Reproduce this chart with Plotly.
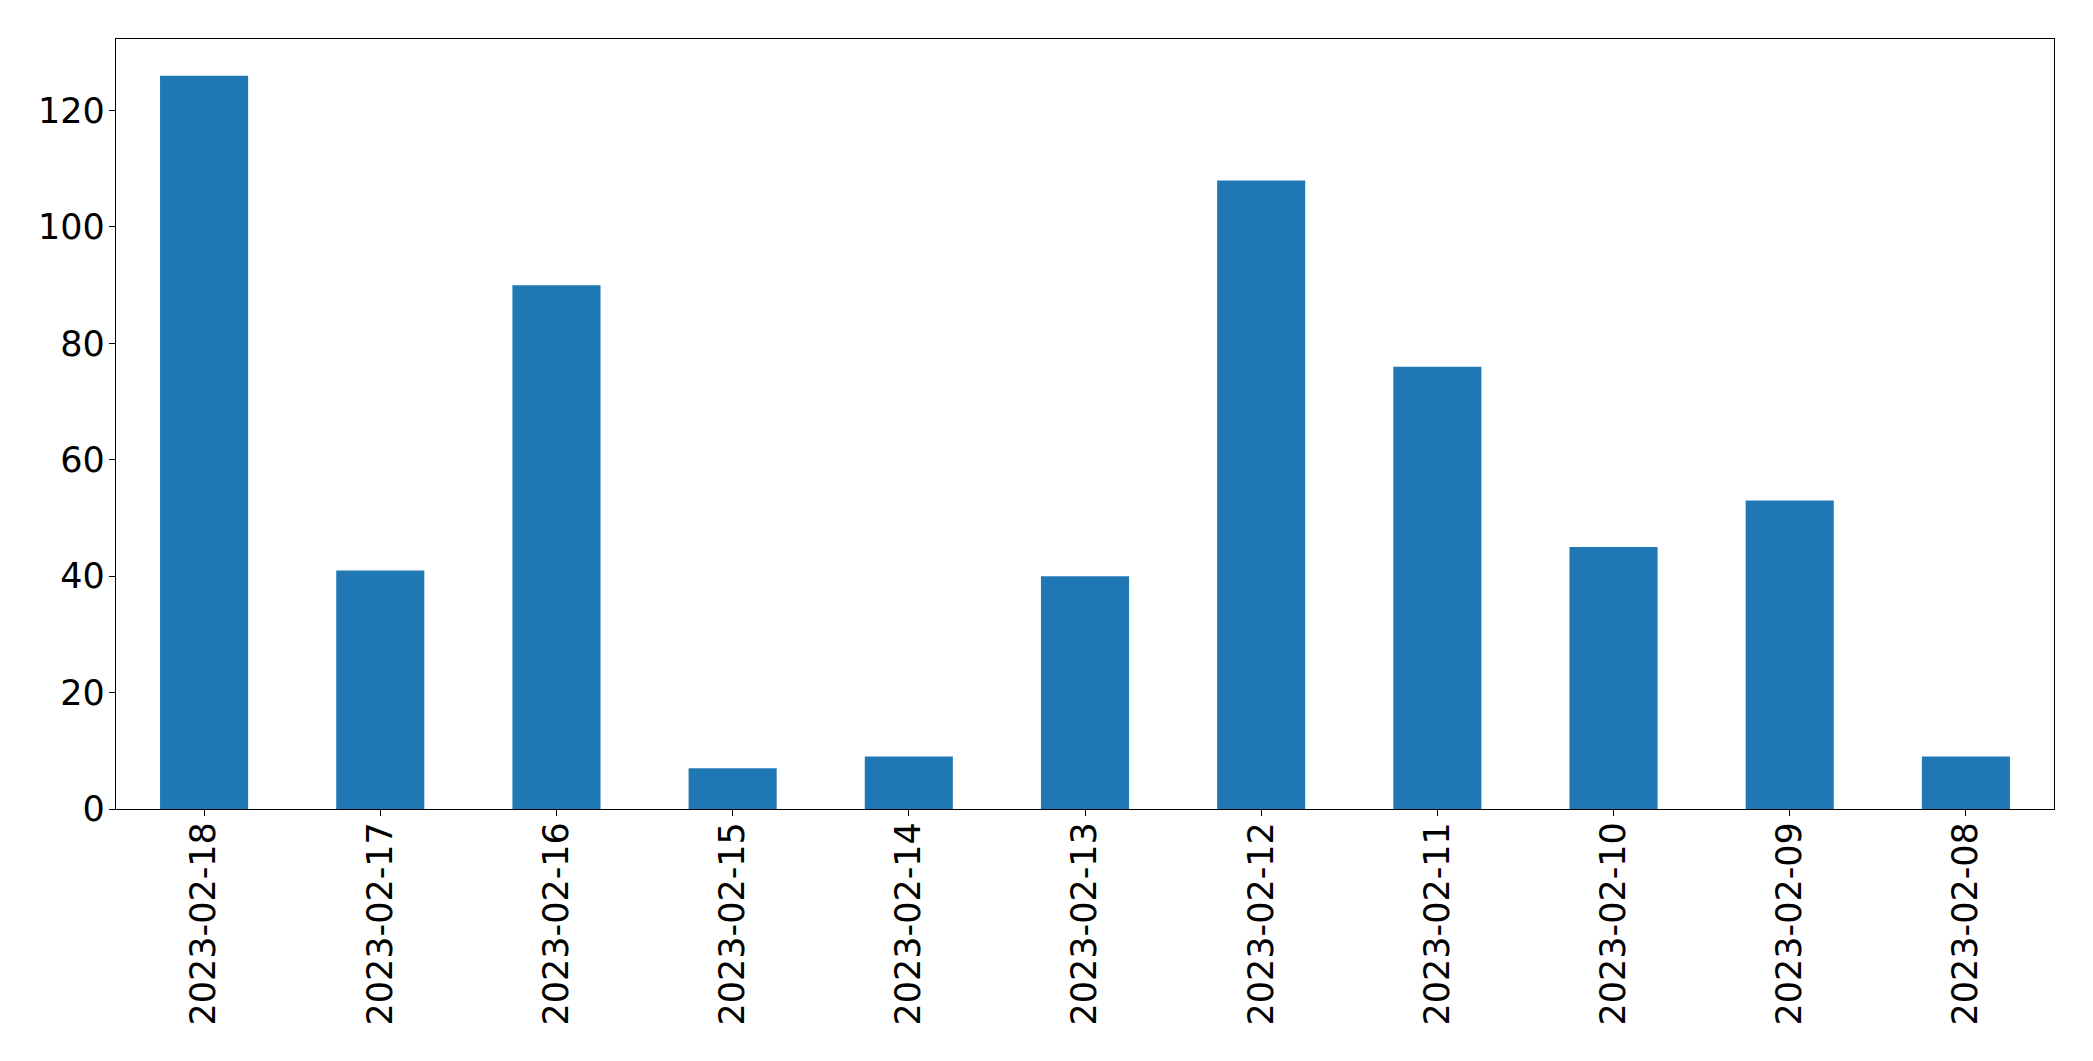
import plotly.graph_objects as go

dates = ["2023-02-18", "2023-02-17", "2023-02-16", "2023-02-15", "2023-02-14", "2023-02-13",
         "2023-02-12", "2023-02-11", "2023-02-10", "2023-02-09", "2023-02-08"]
counts = [126, 41, 90, 7, 9, 40, 108, 76, 45, 53, 9]

fig = go.Figure(go.Bar(x=dates, y=counts, marker=dict(color="#1f77b4", line=dict(width=0)), width=0.5))

font = dict(family="DejaVu Sans", size=35, color="black")
fig.update_layout(
    width=2093, height=1061,
    margin=dict(l=116, r=39, t=39, b=252),
    plot_bgcolor="white", paper_bgcolor="white",
    showlegend=False,
    font=font,
)
fig.update_xaxes(
    type="category", range=[-0.5, len(dates) - 0.5],
    showline=True, linecolor="black", linewidth=1.3, mirror=True,
    ticks="outside", ticklen=6, tickcolor="black", tickangle=-90,
    showgrid=False, tickfont=font, ticklabelstandoff=-8,
)
fig.update_yaxes(
    range=[0, max(counts) * 1.05],
    tickvals=[0, 20, 40, 60, 80, 100, 120],
    showline=True, linecolor="black", linewidth=1.3, mirror=True,
    ticks="outside", ticklen=6, tickcolor="black",
    showgrid=False, zeroline=False, tickfont=font, ticklabelstandoff=-3,
)
fig.write_html("out.html", config={"displayModeBar": False},
               post_script="document.body.style.margin='0';")
